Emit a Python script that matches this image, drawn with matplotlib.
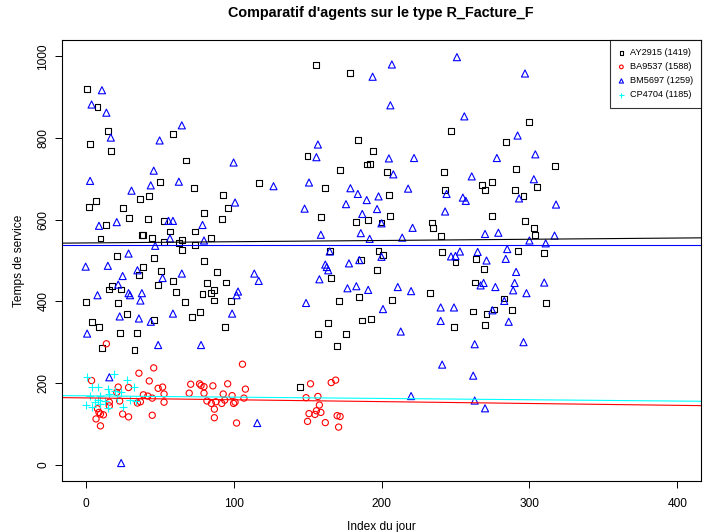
import matplotlib
matplotlib.use("Agg")
import matplotlib.pyplot as plt

plt.rcParams['font.family'] = ['Liberation Sans', 'DejaVu Sans']

# AY2915 - black squares
ay_x = [1, 8, 15, 3, 17, 59, 68, 50, 73, 117, 93, 37, 43, 7, 2, 25, 96, 80, 29, 42, 14, 92, 53, 57, 74, 38,
        10, 39, 45, 53, 63, 65, 74, 85, 65, 21, 46, 80, 39, 36, 51, 89, 59, 49, 82, 95, 18, 16, 24, 61, 79, 85,
        87, 87, 98, 0, 22, 67, 28, 4, 9, 46, 72, 77, 94, 23, 35, 11, 33,
        156, 179, 247, 184, 194, 150, 190, 192, 172, 204, 242, 268, 270, 162, 205, 243, 159, 206, 183, 191, 200,
        234, 235, 240,
        165, 198, 201, 186, 241, 250, 264, 269, 197, 166, 263, 233, 171, 185, 207, 262, 271, 164, 187, 193, 249,
        270, 157, 176, 170, 145,
        300, 284, 317, 291, 275, 290, 305, 296, 275, 297, 303, 304,
        292, 310, 283, 311, 276, 288]
ay_y = [921, 877, 817, 786, 769, 810, 745, 693, 677, 689, 661, 650, 659, 645, 631, 628, 629, 617, 604, 602, 586,
        602, 596, 571, 571, 563,
        554, 562, 555, 545, 542, 550, 537, 555, 525, 512, 506, 498, 484, 465, 474, 472, 450, 441, 444, 446, 437,
        429, 429, 422, 419, 420, 428, 402, 400, 398, 396, 398, 369, 350, 337, 354, 362, 373, 337, 323, 323, 285,
        281,
        979, 959, 818, 796, 768, 756, 735, 737, 722, 717, 717, 685, 672, 678, 660, 672, 607, 609, 594, 599, 593,
        593, 579, 561,
        524, 524, 513, 501, 520, 495, 503, 480, 476, 457, 446, 420, 400, 411, 403, 375, 368, 348, 353, 356, 338,
        341, 320, 320, 291, 190,
        840, 790, 731, 724, 692, 673, 680, 658, 610, 596, 579, 563,
        523, 519, 407, 397, 380, 378]

# BA9537 - red circles
ba_x = [14, 46, 106, 36, 4, 43, 22, 29, 49, 52, 71, 77, 78, 80, 86, 96, 108, 21, 39, 53, 70, 80, 93, 99, 107,
        42, 45, 82, 85, 88, 92, 94, 100, 101, 35, 37, 53, 16, 16, 8, 10, 9, 12, 7, 10, 25, 29, 45, 87, 87, 102,
        23,
        152, 166, 169, 149, 157, 158, 156, 159, 151, 155, 170, 172, 150, 162, 171]
ba_y = [296, 237, 246, 224, 206, 205, 190, 189, 187, 190, 197, 198, 194, 191, 193, 198, 185, 177, 171, 173, 175,
        175, 173, 169, 163, 168, 163, 156, 150, 154, 150, 158, 150, 153, 151, 154, 153, 153, 144, 137, 124, 128,
        122, 112, 95, 124, 117, 121, 136, 115, 102, 156,
        198, 201, 207, 164, 167, 146, 132, 128, 125, 123, 120, 118, 106, 103, 92]

# BM5697 - blue triangles
bm_x = [11, 4, 14, 17, 65, 50, 100, 46, 3, 63, 44, 31, 127, 101, 9, 21, 56, 59, 79,
        57, 80, 47, 29, 0, 15, 25, 35, 52, 65, 114, 117, 22, 29, 30, 38, 8, 37, 103, 102, 23, 36, 44, 59, 99, 1,
        49, 78, 16, 116, 24,
        251, 207, 194, 206, 256, 157, 156, 205, 222, 208, 261, 151, 179, 184, 190, 198, 218, 244, 255, 257, 148,
        176, 187, 197, 200, 243, 221, 159, 186, 270,
        192, 214, 165, 185, 200, 162, 163, 164, 158, 178, 247, 250, 253, 265, 271, 177, 183, 191, 211, 220, 267,
        269, 149, 201, 240, 249, 240, 213, 263, 241, 262, 220, 263, 270,
        297, 292, 278, 304, 303, 293, 318, 279, 317,
        300, 311, 285, 284, 291, 277, 290, 289, 298, 310, 283, 275, 286, 296]
bm_y = [917, 882, 862, 801, 831, 794, 740, 720, 695, 693, 684, 671, 682, 642, 585, 594, 597, 597, 587,
        554, 549, 536, 517, 485, 487, 462, 476, 457, 468, 468, 450, 441, 420, 415, 420, 415, 402, 424, 415, 363,
        358, 350, 370, 370, 321, 293, 293, 214, 102, 4,
        998, 980, 950, 880, 853, 784, 753, 750, 751, 711, 706, 691, 677, 663, 648, 657, 676, 663, 654, 646, 627,
        638, 614, 626, 591, 620, 580, 563, 567, 565,
        553, 556, 522, 501, 509, 490, 484, 476, 454, 493, 510, 511, 522, 521, 500, 432, 437, 428, 435, 425, 439,
        445, 396, 381, 385, 385, 352, 326, 295, 245, 218, 168, 157, 138,
        958, 806, 751, 760, 699, 652, 637, 568, 561,
        549, 542, 528, 504, 472, 435, 445, 427, 420, 446, 401, 378, 350, 300]

# CP4704 - cyan crosses
cp_x = [1, 19, 28, 33, 4, 8, 15, 20, 24, 16, 3, 10, 21, 8, 13, 30, 34, 0, 4, 10, 15, 25, 6]
cp_y = [215, 222, 207, 191, 190, 191, 185, 181, 177, 172, 169, 167, 163, 159, 156, 159, 156, 146, 142, 148,
        138, 142, 153]

labels = ["AY2915 (1419)", "BA9537 (1588)", "BM5697 (1259)", "CP4704 (1185)"]
colors = ["black", "red", "blue", "cyan"]
# regression lines (intercept, slope)
fit_intercepts = [543, 163.5, 538, 168.6]
fit_slopes = [0.03, -0.0455, 0.0, -0.032]

fig = plt.figure(figsize=(7.03, 5.32), dpi=100)
ax = fig.add_axes([62 / 703, 1 - 481 / 532, 639 / 703, 441 / 532])

ax.scatter(ay_x, ay_y, marker="s", s=18, facecolors="none", edgecolors=colors[0], linewidths=0.8, label=labels[0])
ax.scatter(ba_x, ba_y, marker="o", s=20, facecolors="none", edgecolors=colors[1], linewidths=0.8, label=labels[1])
ax.scatter(bm_x, bm_y, marker="^", s=26, facecolors="none", edgecolors=colors[2], linewidths=0.8, label=labels[2])
ax.scatter(cp_x, cp_y, marker="+", s=36, color=colors[3], linewidths=0.8, label=labels[3])

for b, m, c in zip(fit_intercepts, fit_slopes, colors):
    ax.axline((0, b), slope=m, color=c, linewidth=0.8)

ax.set_xlim(-16, 416)
ax.set_ylim(-40, 1040)
ax.set_xticks([0, 100, 200, 300, 400])
ax.set_yticks([0, 200, 400, 600, 800, 1000])
ax.tick_params(direction="out", length=5, width=0.7, labelsize=8.6)
ax.tick_params(axis="x", pad=7)
ax.tick_params(axis="y", pad=4)
for lab in ax.get_yticklabels():
    lab.set_rotation(90)
    lab.set_verticalalignment("center")
for sp in ax.spines.values():
    sp.set_linewidth(0.8)

ax.set_xlabel("Index du jour", fontsize=8.6, labelpad=8)
ax.set_ylabel("Temps de service", fontsize=8.6, labelpad=9)
fig.text(381 / 703, 1 - 13 / 532, "Comparatif d'agents sur le type R_Facture_F",
         fontsize=10.4, fontweight="bold", ha="center", va="center")

leg = ax.legend(loc="upper right", fontsize=6.6, frameon=True, fancybox=False, borderaxespad=0,
                markerscale=0.6, handletextpad=0.6, borderpad=0.9, labelspacing=0.55, handlelength=0.6)
leg.get_frame().set_edgecolor("black")
leg.get_frame().set_linewidth(0.8)

fig.savefig("out.png", dpi=100)
